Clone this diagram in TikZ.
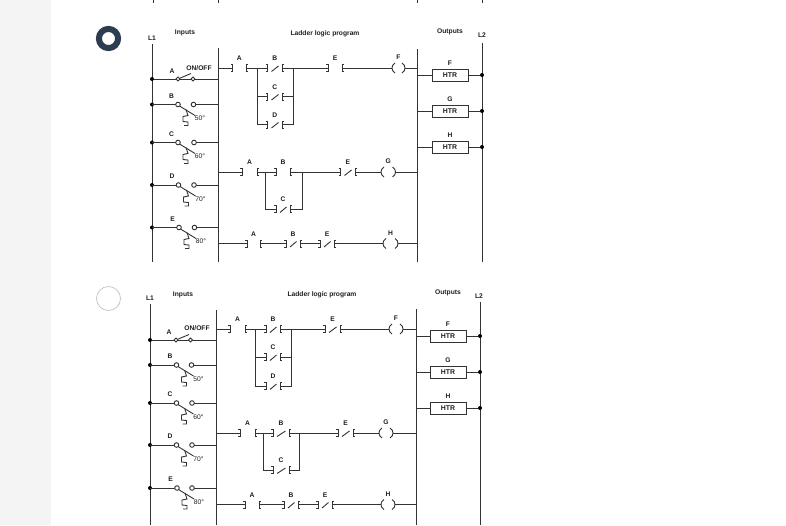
\documentclass[tikz,border=0pt]{standalone}
\usepackage{fontspec}
\setmainfont{Liberation Sans}
\definecolor{ink}{HTML}{333333}
\definecolor{txt}{HTML}{1E1E1E}
\tikzset{
 wire/.style={draw=ink,line width=0.9pt},
 lab/.style={inner sep=0pt,text=txt,font=\fontsize{6.7}{7}\selectfont\bfseries},
 head/.style={inner sep=0pt,text=txt,font=\fontsize{6.7}{7}\selectfont\bfseries},
 deg/.style={inner sep=0pt,text=txt,font=\fontsize{6.7}{7}\selectfont},
 term/.style={circle,draw=ink,line width=0.9pt,fill=white,inner sep=0pt,minimum size=4.6pt},
 dot/.style={circle,fill=black,inner sep=0pt,minimum size=4pt},
 heater/.style={draw=ink,line width=0.9pt,fill=white,minimum width=36pt,minimum height=12pt,inner sep=0pt,text=txt,font=\fontsize{6.9}{7}\selectfont\bfseries},
 radio/.style={circle,inner sep=0pt,minimum size=22pt}
}
% normally open contact: name, x of ], x of [, y, label
\newcommand{\cno}[5]{%
 \coordinate (#1-l) at (#2,#4); \coordinate (#1-r) at (#3,#4);
 \draw[wire] (#2-2,#4-3.5) -- (#2,#4-3.5) -- (#2,#4+3.5) -- (#2-2,#4+3.5);
 \draw[wire] (#3+2,#4-3.5) -- (#3,#4-3.5) -- (#3,#4+3.5) -- (#3+2,#4+3.5);
 \node[lab] (#1-t) at ({(#2+#3)/2},#4-9.5) {#5};}
% normally closed contact
\newcommand{\cnc}[5]{\cno{#1}{#2}{#3}{#4}{#5}%
 \draw[wire] (#2+4,#4+3.5) -- (#3-3.5,#4-2);}
% coil: name, x of (, x of ), y, label
\newcommand{\coil}[5]{%
 \coordinate (#1-l) at (#2,#4); \coordinate (#1-r) at (#3,#4);
 \draw[wire] (#2+3,#4-5) .. controls (#2-1,#4-3) and (#2-1,#4+3) .. (#2+3,#4+5);
 \draw[wire] (#3-3,#4-5) .. controls (#3+1,#4-3) and (#3+1,#4+3) .. (#3-3,#4+5);
 \node[lab] (#1-t) at ({(#2+#3)/2},#4-10.5) {#5};}
% thermal input: name, xL, xR, y, label, degree text
\newcommand{\thermal}[6]{%
 \node[dot] (#1-d) at (\railL,#4) {};
 \coordinate (#1-b) at (\railR,#4);
 \draw[wire] (\railL,#4) -- (#2,#4);
 \draw[wire] (#3,#4) -- (\railR,#4);
 \node[term] (#1-a) at (#2,#4) {};
 \node[term] (#1-c) at (#3,#4) {};
 \draw[wire] (#2+1.5,#4+1.5) -- (#2+17,#4+11);
 \draw[wire] (#2+8,#4+5) -- (#2+10,#4+11) -- (#2+5,#4+12) -- (#2+5,#4+17) -- (#2+10,#4+17.5) -- (#2+10,#4+21) -- (#2+6,#4+21);
 \node[lab] (#1-t) at (#2-6.5,#4-8.5) {#5};
 \node[deg] (#1-g) at (#2+22,#4+14) {#6};}
\newcommand{\heat}[5]{%
 \node[heater] (#1) at (#2,#4) {HTR};
 \node[lab] (#1-t) at (#2,#4-12) {#5};
 \node[dot] (#1-d) at (#3,#4) {};
 \coordinate (#1-b) at (\railO,#4);
 \draw[wire] (#1-b) -- (#1);
 \draw[wire] (#1) -- (#1-d);}
\begin{document}
\begin{tikzpicture}[x=1pt,y=-1pt]
\useasboundingbox (0,0) rectangle (786,525);
\fill[white] (0,0) rectangle (786,525);
\fill[black!4.5] (0,0) rectangle (51,525);
% radio buttons
\node[radio,draw=none,fill=white] (r1) at (108.5,38.5) {};
\draw[line width=6pt,color={rgb,255:red,43;green,61;blue,79}] (r1.center) circle (9.6pt);
\node[radio,draw={rgb,255:red,190;green,195;blue,200},line width=0.7pt,minimum size=24pt] (r2) at (108.5,298.5) {};
% ticks at the top edge
\foreach \x in {153,218,417,482} \draw[wire] (\x,0) -- (\x,3);

%%%%%% upper diagram
\def\railL{152}\def\railR{218}\def\railO{417.5}
\node[head] (tL1) at (152,38) {L1};
\node[head] (tIn) at (185,33) {Inputs};
\node[head] (tLd) at (325,34) {Ladder logic program};
\node[head] (tOut) at (450,32) {Outputs};
\node[head] (tL2) at (482,35) {L2};
\coordinate (tL1a) at (152,44); \coordinate (tL1b) at (152,262);
\coordinate (tR1a) at (218,48); \coordinate (tR1b) at (218,262);
\coordinate (tR2a) at (417.5,49); \coordinate (tR2b) at (417.5,262);
\coordinate (tL2a) at (482,43); \coordinate (tL2b) at (482,262);
\draw[wire] (tL1a) -- (tL1b); \draw[wire] (tR1a) -- (tR1b);
\draw[wire] (tR2a) -- (tR2b); \draw[wire] (tL2a) -- (tL2b);
% input A
\node[dot] (tsA-d) at (152,79) {};
\coordinate (tsA-b) at (218,79);
\draw[wire] (tsA-d) -- (tsA-b);
\node[term,minimum size=3.8pt] (tsA-a) at (178,79) {};
\node[term,minimum size=3.8pt] (tsA-c) at (193,79) {};
\draw[wire] (tsA-a) -- (191,73.5);
\node[lab] (tsA-t) at (172,71) {A};
\node[lab] (tsA-g) at (199,68) {ON/OFF};
\thermal{tsB}{178}{193.5}{104.5}{B}{50°}
\thermal{tsC}{178}{194}{142.5}{C}{60°}
\thermal{tsD}{178.5}{194}{185}{D}{70°}
\thermal{tsE}{179}{194.5}{227.5}{E}{80°}
% rung 1
\cno{ta1}{232.5}{246}{68}{A}
\cnc{tb1}{267.5}{282}{68}{B}
\cnc{tc1}{267.5}{282}{96.5}{C}
\cnc{td1}{267.5}{282}{124.5}{D}
\cno{te1}{328}{342}{68}{E}
\coil{tf1}{392}{405}{68}{F}
\coordinate (tb1j) at (257,68); \coordinate (tb1k) at (293,68);
\coordinate (t1i) at (218,68); \coordinate (t1o) at (417.5,68);
\draw[wire] (t1i) -- (ta1-l); \draw[wire] (ta1-r) -- (tb1-l); \draw[wire] (tb1-r) -- (te1-l);
\draw[wire] (te1-r) -- (tf1-l); \draw[wire] (tf1-r) -- (t1o);
\draw[wire] (tb1j) |- (tc1-l); \draw[wire] (tb1j) |- (td1-l);
\draw[wire] (tb1k) |- (tc1-r); \draw[wire] (tb1k) |- (td1-r);
% rung 2
\cno{ta2}{242}{257}{172}{A}
\cno{tb2}{276}{290}{172}{B}
\cnc{tc2}{276}{290}{209}{C}
\cnc{te2}{340.5}{355}{172}{E}
\coil{tg2}{381}{395.5}{172}{G}
\coordinate (tb2j) at (265.5,172); \coordinate (tb2k) at (302,172);
\coordinate (t2i) at (218,172); \coordinate (t2o) at (417.5,172);
\draw[wire] (t2i) -- (ta2-l); \draw[wire] (ta2-r) -- (tb2-l); \draw[wire] (tb2-r) -- (te2-l);
\draw[wire] (te2-r) -- (tg2-l); \draw[wire] (tg2-r) -- (t2o);
\draw[wire] (tb2j) |- (tc2-l); \draw[wire] (tb2k) |- (tc2-r);
% rung 3
\cno{ta3}{247}{260}{243.5}{A}
\cnc{tb3}{286}{300}{243.5}{B}
\cnc{te3}{320}{334}{243.5}{E}
\coil{th3}{383}{398}{243.5}{H}
\coordinate (t3i) at (218,243.5); \coordinate (t3o) at (417.5,243.5);
\draw[wire] (t3i) -- (ta3-l); \draw[wire] (ta3-r) -- (tb3-l); \draw[wire] (tb3-r) -- (te3-l);
\draw[wire] (te3-r) -- (th3-l); \draw[wire] (th3-r) -- (t3o);
% outputs
\heat{tF}{450}{482}{75}{F}
\heat{tG}{450}{482}{111}{G}
\heat{tH}{450}{482}{147}{H}

%%%%%% lower diagram
\def\railL{150}\def\railR{216}\def\railO{416}
\node[head] (bL1) at (150,298) {L1};
\node[head] (bIn) at (183,295) {Inputs};
\node[head] (bLd) at (322,295) {Ladder logic program};
\node[head] (bOut) at (448,293) {Outputs};
\node[head] (bL2) at (479,296) {L2};
\coordinate (bL1a) at (150,304); \coordinate (bL1b) at (150,525);
\coordinate (bR1a) at (216,310); \coordinate (bR1b) at (216,525);
\coordinate (bR2a) at (416,309); \coordinate (bR2b) at (416,525);
\coordinate (bL2a) at (480,302); \coordinate (bL2b) at (480,525);
\draw[wire] (bL1a) -- (bL1b); \draw[wire] (bR1a) -- (bR1b);
\draw[wire] (bR2a) -- (bR2b); \draw[wire] (bL2a) -- (bL2b);
% input A
\node[dot] (bsA-d) at (150,340) {};
\coordinate (bsA-b) at (216,340);
\draw[wire] (bsA-d) -- (bsA-b);
\node[term,minimum size=3.8pt] (bsA-a) at (176,340) {};
\node[term,minimum size=3.8pt] (bsA-c) at (190.5,340) {};
\draw[wire] (bsA-a) -- (189,334.5);
\node[lab] (bsA-t) at (169,332) {A};
\node[lab] (bsA-g) at (197,328) {ON/OFF};
\thermal{bsB}{176.5}{191.5}{365}{B}{50°}
\thermal{bsC}{176.5}{192}{403}{C}{60°}
\thermal{bsD}{176.5}{192}{445}{D}{70°}
\thermal{bsE}{177}{192}{488}{E}{80°}
% rung 1
\cno{ba1}{230}{245}{329}{A}
\cnc{bb1}{266}{280}{329}{B}
\cnc{bc1}{266}{280}{357}{C}
\cnc{bd1}{266}{280}{386}{D}
\cnc{be1}{325}{340}{329}{E}
\coil{bf1}{389}{403}{329}{F}
\coordinate (bb1j) at (255,329); \coordinate (bb1k) at (291,329);
\coordinate (b1i) at (216,329); \coordinate (b1o) at (416,329);
\draw[wire] (b1i) -- (ba1-l); \draw[wire] (ba1-r) -- (bb1-l); \draw[wire] (bb1-r) -- (be1-l);
\draw[wire] (be1-r) -- (bf1-l); \draw[wire] (bf1-r) -- (b1o);
\draw[wire] (bb1j) |- (bc1-l); \draw[wire] (bb1j) |- (bd1-l);
\draw[wire] (bb1k) |- (bc1-r); \draw[wire] (bb1k) |- (bd1-r);
% rung 2
\cno{ba2}{240}{255}{433}{A}
\cnc{bb2}{273}{289}{433}{B}
\cnc{bc2}{273}{289}{470}{C}
\cnc{be2}{338}{353}{433}{E}
\coil{bg2}{379}{393}{433}{G}
\coordinate (bb2j) at (263,433); \coordinate (bb2k) at (299,433);
\coordinate (b2i) at (216,433); \coordinate (b2o) at (416,433);
\draw[wire] (b2i) -- (ba2-l); \draw[wire] (ba2-r) -- (bb2-l); \draw[wire] (bb2-r) -- (be2-l);
\draw[wire] (be2-r) -- (bg2-l); \draw[wire] (bg2-r) -- (b2o);
\draw[wire] (bb2j) |- (bc2-l); \draw[wire] (bb2k) |- (bc2-r);
% rung 3
\cno{ba3}{245}{259}{504.5}{A}
\cnc{bb3}{284}{298}{504.5}{B}
\cnc{be3}{318}{332}{504.5}{E}
\coil{bh3}{381}{395}{504.5}{H}
\coordinate (b3i) at (216,504.5); \coordinate (b3o) at (416,504.5);
\draw[wire] (b3i) -- (ba3-l); \draw[wire] (ba3-r) -- (bb3-l); \draw[wire] (bb3-r) -- (be3-l);
\draw[wire] (be3-r) -- (bh3-l); \draw[wire] (bh3-r) -- (b3o);
% outputs
\heat{bF}{448}{480}{336}{F}
\heat{bG}{448}{480}{372}{G}
\heat{bH}{448}{480}{408}{H}
\end{tikzpicture}
\end{document}
